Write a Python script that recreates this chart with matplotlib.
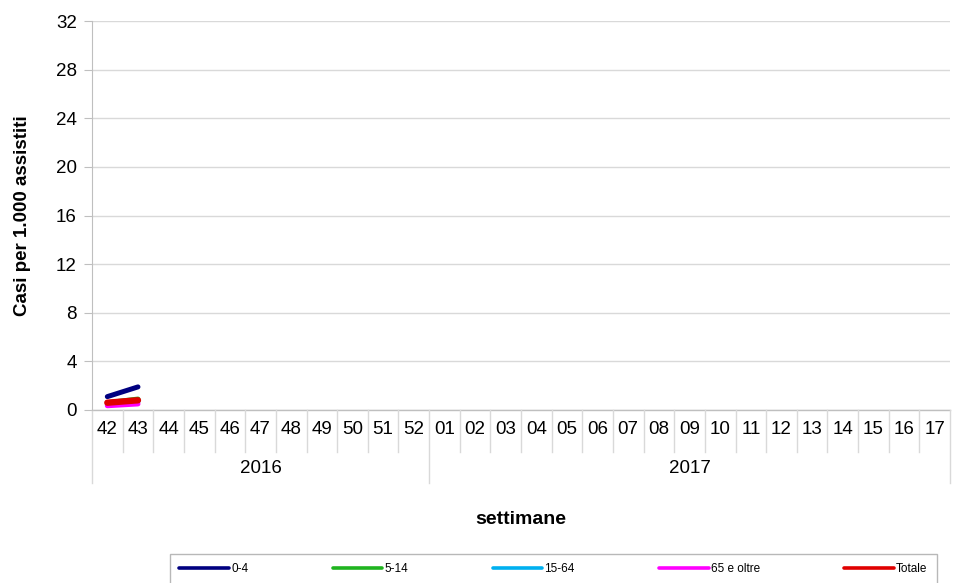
import numpy as np
import matplotlib
matplotlib.use("Agg")
import matplotlib.pyplot as plt
import matplotlib.transforms as mtransforms

plt.rcParams["font.family"] = ["Liberation Sans", "DejaVu Sans"]

# Data
weeks = ["42", "43", "44", "45", "46", "47", "48", "49", "50", "51", "52",
         "01", "02", "03", "04", "05", "06", "07", "08", "09", "10", "11",
         "12", "13", "14", "15", "16", "17"]
years = ["2016", "2017"]
year_counts = [11, 17]

age_0_4 = [1.1, 1.9]
age_5_14 = [0.6, 0.9]
age_15_64 = [0.5, 0.7]
age_65 = [0.35, 0.5]
totale = [0.6, 0.8]

series = [
    ("0-4", age_0_4, "#000080"),
    ("5-14", age_5_14, "#1fb41f"),
    ("15-64", age_15_64, "#00b0f0"),
    ("65 e oltre", age_65, "#ff00ff"),
    ("Totale", totale, "#e00000"),
]

fig = plt.figure(figsize=(9.55, 5.83), dpi=100)
ax = fig.add_axes([92 / 955, 1 - 410 / 583, (950 - 92) / 955, (410 - 21) / 583])

x = np.arange(len(weeks))
for name, vals, col in series:
    lw = 4.6 if name == "Totale" else 3.6
    ax.plot(x[:len(vals)], vals, color=col, lw=lw, solid_capstyle="round", label=name)

ax.set_xlim(-0.5, len(weeks) - 0.5)
ax.set_ylim(0, 32)
ax.set_yticks(np.arange(0, 33, 4))
ax.grid(axis="y", color="#d9d9d9", lw=1)
ax.set_axisbelow(True)
for s in ["top", "right", "bottom"]:
    ax.spines[s].set_visible(False)
ax.spines["left"].set_color("#bfbfbf")
ax.tick_params(axis="y", length=6, color="#bfbfbf", labelsize=13.5, pad=5)
ax.set_xticks(x)
ax.set_xticklabels(weeks, fontsize=13.5)
ax.tick_params(axis="x", length=0, pad=8)
ax.set_ylabel("Casi per 1.000 assistiti", fontsize=13.5, fontweight="bold", labelpad=18)

# category separators below axis
trans = mtransforms.blended_transform_factory(ax.transData, ax.transAxes)
ax.plot([-0.5, len(weeks) - 0.5], [0, 0], transform=trans, color="#bfbfbf", lw=1, clip_on=False)
start = 0
bounds = [-0.5]
for n in year_counts:
    start += n
    bounds.append(start - 0.5)
for i in range(len(weeks) + 1):
    xb = i - 0.5
    y_end = -0.188 if xb in bounds else -0.108
    ax.plot([xb, xb], [0, y_end], transform=trans, color="#d9d9d9", lw=1, clip_on=False)

# year labels
for i, yr in enumerate(years):
    mid = (bounds[i] + bounds[i + 1]) / 2
    ax.text(mid, -0.15, yr, transform=trans, ha="center", va="center", fontsize=13.5)

fig.text((92 + 950) / 2 / 955, 1 - 519 / 583, "settimane", ha="center", va="center",
         fontsize=14, fontweight="bold")

leg = fig.legend(loc="upper left", bbox_to_anchor=(170 / 955, 1 - 554 / 583, (937 - 170) / 955, 0),
                 mode="expand", ncol=5, fontsize=8.5, frameon=True, fancybox=False,
                 handlelength=4.2, handletextpad=0.2, borderaxespad=0, borderpad=0.8)
leg.get_frame().set_edgecolor("#a6a6a6")
leg.get_frame().set_linewidth(1)
for h in leg.get_lines():
    h.set_linewidth(2.6)

fig.savefig("out.png", dpi=100)
